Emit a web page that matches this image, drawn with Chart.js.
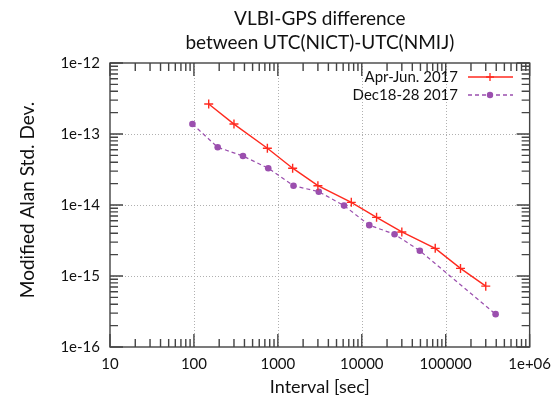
<!DOCTYPE html>
<html>
<head>
<meta charset="utf-8">
<script src="https://cdn.jsdelivr.net/npm/chart.js@4"></script>
<style>
  html, body { margin: 0; padding: 0; background: #fff; }
  #wrap { width: 559px; height: 398px; }
</style>
</head>
<body>
<div id="wrap"><canvas id="adev" width="559" height="398"></canvas></div>
<script>
// Modified Allan deviation
const aprJunTau = [150, 300, 750, 1500, 3000, 7500, 15000, 30000, 75000, 150000, 300000];
const aprJunDev = [2.65e-13, 1.38e-13, 6.3e-14, 3.3e-14, 1.87e-14, 1.09e-14, 6.7e-15, 4.17e-15, 2.45e-15, 1.28e-15, 7.2e-16];
const decTau = [96, 192, 384, 768, 1536, 3072, 6144, 12288, 24576, 49152, 393216];
const decDev = [1.38e-13, 6.5e-14, 4.9e-14, 3.3e-14, 1.87e-14, 1.54e-14, 9.8e-15, 5.2e-15, 3.87e-15, 2.27e-15, 2.9e-16];

const seriesNames = ['Apr-Jun. 2017', 'Dec18-28 2017'];
const xTickValues = [10, 100, 1000, 10000, 100000, 1000000];
const xTickLabels = ['10', '100', '1000', '10000', '100000', '1e+06'];
const yTickValues = [1e-16, 1e-15, 1e-14, 1e-13, 1e-12];
const yTickLabels = ['1e-16', '1e-15', '1e-14', '1e-13', '1e-12'];

const FONT = 'Lato, "Open Sans", sans-serif';
const RED = '#ff2a1f';
const PURPLE = '#9b4fae';

function toPoints(xs, ys) {
  return xs.map((x, i) => ({ x: x, y: ys[i] }));
}

// gnuplot style frame: dotted grid, inward ticks on all four sides
const framePlugin = {
  id: 'frame',
  beforeDatasetsDraw(chart) {
    const { ctx, chartArea: a } = chart;
    const xs = chart.scales.x, ys = chart.scales.y;
    ctx.save();
    ctx.strokeStyle = '#b0b0b0';
    ctx.lineWidth = 1;
    ctx.setLineDash([1, 2]);
    xTickValues.slice(1, -1).forEach(v => {
      const px = Math.round(xs.getPixelForValue(v)) + 0.5;
      ctx.beginPath(); ctx.moveTo(px, a.top); ctx.lineTo(px, a.bottom); ctx.stroke();
    });
    yTickValues.slice(1, -1).forEach(v => {
      const py = Math.round(ys.getPixelForValue(v)) + 0.5;
      ctx.beginPath(); ctx.moveTo(a.left, py); ctx.lineTo(a.right, py); ctx.stroke();
    });
    ctx.restore();
  },
  afterDatasetsDraw(chart) {
    const { ctx, chartArea: a } = chart;
    const xs = chart.scales.x, ys = chart.scales.y;
    ctx.save();
    ctx.strokeStyle = '#444';
    ctx.lineWidth = 1.4;
    ctx.setLineDash([]);
    const major = 13, minor = 8;
    for (let d = 0; d < xTickValues.length; d++) {
      for (let m = 1; m <= 9; m++) {
        const v = xTickValues[d] * m;
        if (v > xTickValues[xTickValues.length - 1]) break;
        const len = m === 1 ? major : minor;
        const px = xs.getPixelForValue(v);
        ctx.beginPath();
        ctx.moveTo(px, a.bottom); ctx.lineTo(px, a.bottom - len);
        ctx.moveTo(px, a.top); ctx.lineTo(px, a.top + len);
        ctx.stroke();
      }
    }
    for (let d = 0; d < yTickValues.length; d++) {
      for (let m = 1; m <= 9; m++) {
        const v = yTickValues[d] * m;
        if (v > yTickValues[yTickValues.length - 1] * 1.0001) break;
        const len = m === 1 ? major : minor;
        const py = ys.getPixelForValue(v);
        ctx.beginPath();
        ctx.moveTo(a.left, py); ctx.lineTo(a.left + len, py);
        ctx.moveTo(a.right, py); ctx.lineTo(a.right - len, py);
        ctx.stroke();
      }
    }
    ctx.strokeRect(a.left, a.top, a.right - a.left, a.bottom - a.top);
    ctx.restore();
  }
};

// titles and the in-plot legend
const textPlugin = {
  id: 'texts',
  afterDraw(chart) {
    const { ctx, chartArea: a } = chart;
    const cx = (a.left + a.right) / 2;
    ctx.save();
    ctx.fillStyle = '#111';
    ctx.textAlign = 'center';
    ctx.textBaseline = 'middle';
    ctx.font = '19px ' + FONT;
    ctx.fillText('VLBI-GPS difference', cx, 19);
    ctx.fillText('between UTC(NICT)-UTC(NMIJ)', cx, 43);
    ctx.save();
    ctx.translate(28, 200);
    ctx.rotate(-Math.PI / 2);
    ctx.fillText('Modified Alan Std. Dev.', 0, 0);
    ctx.restore();
    ctx.font = '18px ' + FONT;
    ctx.fillText('Interval [sec]', cx, 387);

    // legend
    ctx.font = '15px ' + FONT;
    ctx.textAlign = 'right';
    const rows = [
      { y: 77, color: RED, dash: [], mark: 'cross' },
      { y: 95, color: PURPLE, dash: [4, 3], mark: 'dot' }
    ];
    rows.forEach((r, i) => {
      ctx.fillStyle = '#111';
      ctx.fillText(seriesNames[i], 458, r.y);
      ctx.strokeStyle = r.color;
      ctx.lineWidth = 1.3;
      ctx.setLineDash(r.dash);
      ctx.beginPath(); ctx.moveTo(468, r.y); ctx.lineTo(513, r.y); ctx.stroke();
      ctx.setLineDash([]);
      if (r.mark === 'cross') {
        ctx.beginPath();
        ctx.moveTo(486, r.y); ctx.lineTo(494, r.y);
        ctx.moveTo(490, r.y - 4); ctx.lineTo(490, r.y + 4);
        ctx.stroke();
      } else {
        ctx.fillStyle = r.color;
        ctx.beginPath(); ctx.arc(490, r.y, 3.2, 0, Math.PI * 2); ctx.fill();
      }
    });
    ctx.restore();
  }
};

function decadeTicks(values) {
  return function (scale) {
    scale.ticks = values.map(v => ({ value: v }));
  };
}

new Chart(document.getElementById('adev'), {
  type: 'line',
  data: {
    datasets: [
      {
        label: seriesNames[0],
        data: toPoints(aprJunTau, aprJunDev),
        borderColor: RED,
        backgroundColor: RED,
        borderWidth: 1.4,
        pointStyle: 'cross',
        pointRadius: 4.5,
        pointBorderWidth: 1.4,
        tension: 0
      },
      {
        label: seriesNames[1],
        data: toPoints(decTau, decDev),
        borderColor: PURPLE,
        backgroundColor: PURPLE,
        borderWidth: 1.2,
        borderDash: [4, 3],
        pointStyle: 'circle',
        pointRadius: 3.3,
        pointBorderWidth: 0,
        tension: 0
      }
    ]
  },
  options: {
    responsive: false,
    animation: false,
    events: [],
    layout: { padding: { top: 63, right: 25, bottom: 0, left: 0 } },
    plugins: {
      legend: { display: false },
      title: { display: false },
      tooltip: { enabled: false }
    },
    scales: {
      x: {
        type: 'logarithmic',
        min: 10,
        max: 1000000,
        afterBuildTicks: decadeTicks(xTickValues),
        afterFit(scale) { scale.height = 51; },
        grid: { display: false, drawTicks: false },
        border: { display: false },
        ticks: {
          padding: 8,
          color: '#111',
          font: { family: FONT, size: 15 },
          maxRotation: 0,
          autoSkip: false,
          callback: (v, i) => xTickLabels[i]
        }
      },
      y: {
        type: 'logarithmic',
        min: 1e-16,
        max: 1e-12,
        afterBuildTicks: decadeTicks(yTickValues),
        afterFit(scale) { scale.width = 110; },
        grid: { display: false, drawTicks: false },
        border: { display: false },
        ticks: {
          padding: 10,
          color: '#111',
          font: { family: FONT, size: 15 },
          autoSkip: false,
          callback: (v, i) => yTickLabels[i]
        }
      }
    }
  },
  plugins: [framePlugin, textPlugin]
});
</script>
</body>
</html>
